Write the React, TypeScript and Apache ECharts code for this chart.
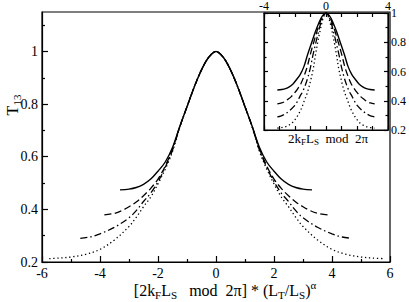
import React, { useEffect, useRef } from "react";
import * as echarts from "echarts";

// Right half of each curve (curves are symmetric about 0).
// Main panel: scaled abscissa [2kF LS mod 2π]*(LT/LS)^α
const solidX = [0, 0.25, 0.5, 0.75, 1.0, 1.25, 1.5, 1.75, 2.0, 2.25, 2.5, 2.75, 3.0, 3.31];
const solidY = [1, 0.978, 0.93, 0.865, 0.79, 0.715, 0.635, 0.58, 0.545, 0.515, 0.495, 0.483, 0.477, 0.474];

const dashedX = [0, 0.25, 0.5, 0.75, 1.0, 1.25, 1.5, 1.75, 2.0, 2.25, 2.5, 2.75, 3.0, 3.25, 3.5, 3.85];
const dashedY = [1, 0.978, 0.93, 0.865, 0.79, 0.714, 0.63, 0.565, 0.515, 0.48, 0.452, 0.428, 0.41, 0.395, 0.385, 0.379];

const dashDotX = [0, 0.25, 0.5, 0.75, 1.0, 1.25, 1.5, 1.75, 2.0, 2.25, 2.5, 2.75, 3.0, 3.5, 4.0, 4.35, 4.68];
const dashDotY = [1, 0.978, 0.93, 0.865, 0.79, 0.713, 0.625, 0.56, 0.505, 0.462, 0.43, 0.395, 0.368, 0.332, 0.307, 0.295, 0.29];

const dottedX = [0, 0.25, 0.5, 0.75, 1.0, 1.25, 1.5, 1.75, 2.0, 2.25, 2.5, 2.75, 3.0, 3.5, 4.0, 4.5, 5.0, 5.4, 5.75];
const dottedY = [1, 0.978, 0.93, 0.865, 0.79, 0.712, 0.62, 0.553, 0.497, 0.447, 0.41, 0.37, 0.335, 0.284, 0.248, 0.229, 0.219, 0.215, 0.213];

// Inset: unscaled abscissa 2kF LS mod 2π (same ordinates)
const solidInsetX = [0, 0.24, 0.47, 0.71, 0.95, 1.19, 1.42, 1.66, 1.9, 2.13, 2.37, 2.61, 2.85, 3.14];
const dashedInsetX = [0, 0.2, 0.41, 0.61, 0.82, 1.02, 1.22, 1.43, 1.63, 1.84, 2.04, 2.24, 2.45, 2.65, 2.86, 3.14];
const dashDotInsetX = [0, 0.17, 0.34, 0.5, 0.67, 0.84, 1.01, 1.17, 1.34, 1.51, 1.68, 1.85, 2.01, 2.35, 2.68, 2.92, 3.14];
const dottedInsetX = [0, 0.14, 0.27, 0.41, 0.55, 0.68, 0.82, 0.96, 1.09, 1.23, 1.37, 1.5, 1.64, 1.91, 2.19, 2.46, 2.73, 2.95, 3.14];

// Tick values
const mainYMajor = [0.2, 0.4, 0.6, 0.8, 1];
const mainYMinor = [0.3, 0.5, 0.7, 0.9, 1.1];

const FONT = "Liberation Serif";

function mirror(xs: number[], ys: number[]): number[][] {
  const left: number[][] = [];
  for (let i = xs.length - 1; i > 0; i--) left.push([-xs[i], ys[i]]);
  const right = xs.map((x, i) => [x, ys[i]]);
  return [...left, ...right];
}

const lineTypes: any[] = ["solid", [7, 3.5], [7, 3, 1.5, 3], [1.3, 2.7]];
const lineWidths = [1.4, 1.3, 1.3, 1.3];

export default function App() {
  const ref = useRef<HTMLDivElement>(null);

  useEffect(() => {
    if (!ref.current) return;
    const chart = echarts.init(ref.current, undefined, { renderer: "svg" });

    const mainData = [
      mirror(solidX, solidY),
      mirror(dashedX, dashedY),
      mirror(dashDotX, dashDotY),
      mirror(dottedX, dottedY),
    ];
    const insetData = [
      mirror(solidInsetX, solidY),
      mirror(dashedInsetX, dashedY),
      mirror(dashDotInsetX, dashDotY),
      mirror(dottedInsetX, dottedY),
    ];

    const mkSeries = (data: number[][], i: number, xi: number, yi: number) => ({
      type: "line",
      data,
      xAxisIndex: xi,
      yAxisIndex: yi,
      showSymbol: false,
      smooth: 0.35,
      lineStyle: { color: "#000", width: lineWidths[i], type: lineTypes[i], cap: "butt" },
      silent: true,
    });

    const black = { color: "#000", width: 1.2 };
    const label = (size: number, margin: number) => ({
      color: "#000",
      fontFamily: FONT,
      fontSize: size,
      margin,
    });

    const sub = { fontSize: 11, verticalAlign: "bottom", fontFamily: FONT, fill: "#000" };
    const subSmall = { fontSize: 9, verticalAlign: "bottom", fontFamily: FONT, fill: "#000" };
    const sup = { fontSize: 11, verticalAlign: "top", fontFamily: FONT, fill: "#000" };

    chart.setOption({
      animation: false,
      grid: [
        { left: 42, top: 12, right: 19, bottom: 40, show: true, borderColor: "#000", borderWidth: 1.2, backgroundColor: "transparent" },
        { left: 264, top: 12, right: 19, bottom: 172, show: true, borderColor: "#000", borderWidth: 1.2, backgroundColor: "#fff" },
      ],
      xAxis: [
        {
          gridIndex: 0, type: "value", min: -6, max: 6, interval: 2, position: "bottom",
          axisLine: { show: true, lineStyle: black, onZero: false },
          axisTick: { show: true, inside: true, length: 6, lineStyle: black },
          minorTick: { show: true, splitNumber: 2, length: 3, lineStyle: black },
          splitLine: { show: false },
          axisLabel: label(14, 4),
        },
        {
          gridIndex: 1, type: "value", min: -4, max: 4, interval: 4, position: "top",
          axisLine: { show: true, lineStyle: black, onZero: false },
          axisTick: { show: true, inside: true, length: 4, lineStyle: black },
          minorTick: { show: true, splitNumber: 4, length: 4, lineStyle: black },
          splitLine: { show: false },
          axisLabel: label(12, 1),
        },
        {
          gridIndex: 1, type: "value", min: -4, max: 4, interval: 4, position: "bottom",
          axisLine: { show: true, lineStyle: black, onZero: false },
          axisTick: { show: true, inside: true, length: 4, lineStyle: black },
          minorTick: { show: true, splitNumber: 4, length: 4, lineStyle: black },
          splitLine: { show: false },
          axisLabel: { show: false },
        },
      ],
      yAxis: [
        {
          gridIndex: 0, type: "value", min: 0.2, max: 1.15, position: "left",
          axisLine: { show: true, lineStyle: black, onZero: false },
          axisTick: { show: true, inside: true, length: 6, lineStyle: black, customValues: mainYMajor },
          splitLine: { show: false },
          axisLabel: { ...label(14, 4), customValues: mainYMajor },
        },
        {
          gridIndex: 0, type: "value", min: 0.2, max: 1.15, position: "left",
          axisLine: { show: false, onZero: false },
          axisTick: { show: true, inside: true, length: 3, lineStyle: black, customValues: mainYMinor },
          splitLine: { show: false },
          axisLabel: { show: false },
        },
        {
          gridIndex: 1, type: "value", min: 0.2, max: 1, interval: 0.2, position: "right",
          axisLine: { show: true, lineStyle: black, onZero: false },
          axisTick: { show: true, inside: true, length: 4, lineStyle: black },
          minorTick: { show: true, splitNumber: 2, length: 2.5, lineStyle: black },
          splitLine: { show: false },
          axisLabel: label(12, 3),
        },
        {
          gridIndex: 1, type: "value", min: 0.2, max: 1, interval: 0.2, position: "left",
          axisLine: { show: true, lineStyle: black, onZero: false },
          axisTick: { show: true, inside: true, length: 4, lineStyle: black },
          minorTick: { show: true, splitNumber: 2, length: 2.5, lineStyle: black },
          splitLine: { show: false },
          axisLabel: { show: false },
        },
      ],
      series: [
        ...mainData.map((d, i) => mkSeries(d, i, 0, 0)),
        ...insetData.map((d, i) => mkSeries(d, i, 1, 2)),
      ],
      graphic: [
        {
          type: "text",
          x: 12,
          y: 105,
          rotation: Math.PI / 2,
          style: {
            text: "T{s|13}",
            fontFamily: FONT,
            fontSize: 16,
            lineHeight: 20,
            fill: "#000",
            align: "center",
            verticalAlign: "middle",
            rich: { s: sub },
          },
        },
        {
          type: "text",
          x: 225,
          y: 290,
          style: {
            text: "[2k{s|F}L{s|S}   mod  2\u03c0] * (L{s|T}/L{s|S}){p|\u03b1}",
            fontFamily: FONT,
            fontSize: 16,
            lineHeight: 21,
            fill: "#000",
            align: "center",
            verticalAlign: "middle",
            rich: { s: sub, p: sup },
          },
        },
        {
          type: "text",
          x: 328,
          y: 138,
          style: {
            text: "2k{s|F}L{s|S}  mod  2\u03c0",
            fontFamily: FONT,
            fontSize: 13,
            lineHeight: 17,
            fill: "#000",
            align: "center",
            verticalAlign: "middle",
            rich: { s: subSmall },
          },
        },
      ],
    });

    return () => chart.dispose();
  }, []);

  return <div ref={ref} style={{ width: 409, height: 302, position: "absolute", left: 0, top: 0 }} />;
}
